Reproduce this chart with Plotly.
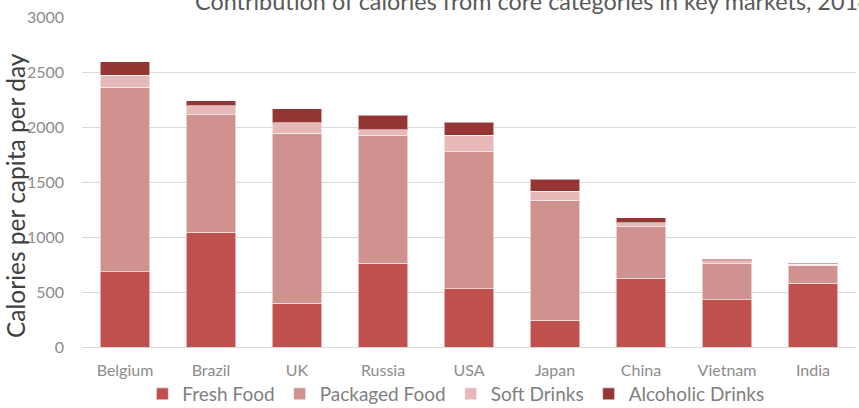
import plotly.graph_objects as go

countries = ["Belgium", "Brazil", "UK", "Russia", "USA", "Japan", "China", "Vietnam", "India"]
fresh_food = [683, 1045, 399, 762, 530, 242, 624, 430, 578]
packaged_food = [1677, 1067, 1544, 1160, 1245, 1091, 470, 327, 167]
soft_drinks = [112, 82, 97, 54, 152, 85, 36, 28, 6]
alcoholic_drinks = [121, 43, 124, 130, 118, 106, 45, 12, 9]

series_names = ["Fresh Food", "Packaged Food", "Soft Drinks", "Alcoholic Drinks"]
series_values = [fresh_food, packaged_food, soft_drinks, alcoholic_drinks]
series_colors = ["#C0504D", "#D0928F", "#E6B9B8", "#943634"]

FONT = "Lato"

fig = go.Figure()
for name, vals, col in zip(series_names, series_values, series_colors):
    fig.add_trace(go.Bar(
        x=countries, y=vals, name=name,
        marker=dict(color=col, line=dict(color="rgba(255,255,255,0.55)", width=1)),
    ))

fig.update_layout(
    width=859, height=408,
    margin=dict(l=82, r=3, t=17, b=61, autoexpand=False),
    barmode="stack", bargap=0.43,
    plot_bgcolor="white", paper_bgcolor="white",
    font=dict(family=FONT),
    title=dict(
        text="Contribution of calories from core categories in key markets, 2014",
        x=195 / 859, xanchor="left", xref="container",
        y=0.996, yanchor="middle", yref="container",
        font=dict(family=FONT, size=23.4, color="#595959"),
    ),
    showlegend=True,
    legend=dict(
        orientation="h", x=0.483, xanchor="center", xref="paper",
        y=(347 - 394) / 330, yanchor="middle", yref="paper",
        font=dict(family=FONT, size=19, color="#7F7F7F"),
        traceorder="normal", bgcolor="rgba(0,0,0,0)",
    ),
    xaxis=dict(
        tickfont=dict(family=FONT, size=16, color="#8C8C8C"),
        showline=False, ticks="", ticklabelstandoff=12,
    ),
    yaxis=dict(
        range=[0, 3000], dtick=500,
        tickfont=dict(family=FONT, size=16, color="#8C8C8C"),
        gridcolor="#D9D9D9", gridwidth=1,
        zeroline=True, zerolinecolor="#D9D9D9", zerolinewidth=1,
        showline=False, ticks="", ticklabelstandoff=17,
    ),
    annotations=[dict(
        text="Calories per capita per day", textangle=-90,
        xref="paper", x=(15 - 82) / 774, xanchor="center",
        yref="paper", y=(347 - 196) / 330, yanchor="middle",
        showarrow=False, font=dict(family=FONT, size=24.5, color="#404040"),
    )],
)

fig.write_html("out.html")
